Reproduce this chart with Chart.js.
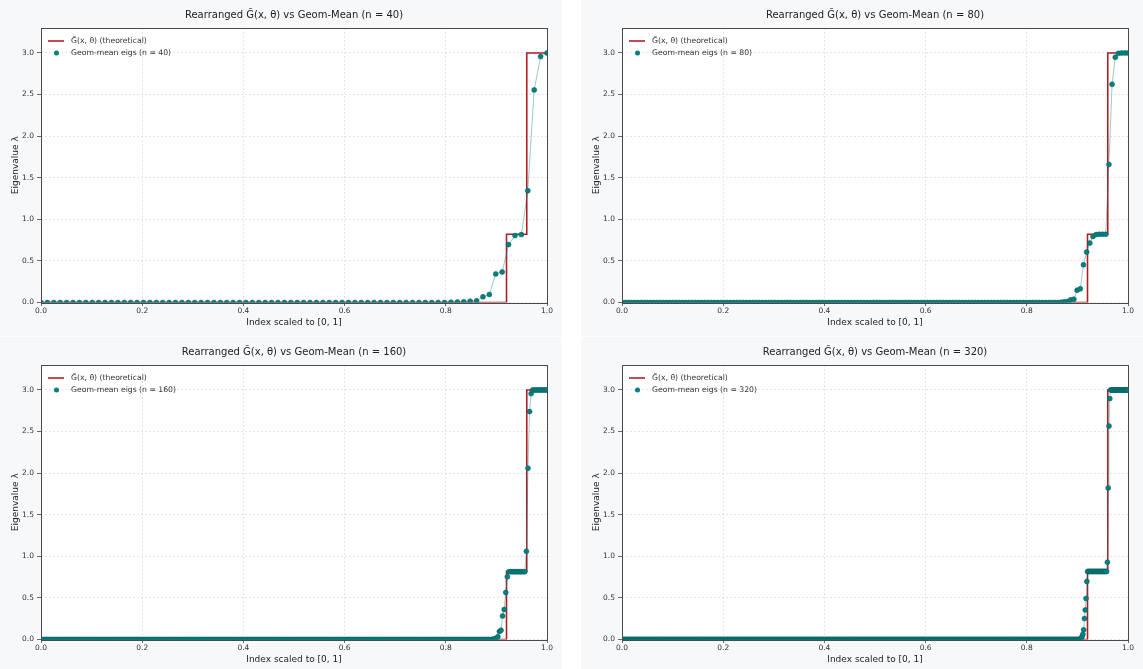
<!DOCTYPE html>
<html>
<head>
<meta charset="utf-8">
<script src="https://cdn.jsdelivr.net/npm/chart.js@4.4.0/dist/chart.umd.min.js"></script>
<style>
  html, body { margin: 0; padding: 0; background: #fff; }
  #grid {
    display: grid;
    grid-template-columns: 562px 562px;
    column-gap: 19px;
    row-gap: 1px;
    width: 1143px;
  }
  .panel { background: #f6f8fa; width: 562px; height: 336px; }
  canvas { display: block; }
</style>
</head>
<body>
<div id="grid">
  <div class="panel"><canvas id="c40" width="562" height="336"></canvas></div>
  <div class="panel"><canvas id="c80" width="562" height="336"></canvas></div>
  <div class="panel"><canvas id="c160" width="562" height="336"></canvas></div>
  <div class="panel"><canvas id="c320" width="562" height="336"></canvas></div>
</div>
<script>
// axis ticks
const xTicks = [0, 0.2, 0.4, 0.6, 0.8, 1.0];
const yTicks = [0, 0.5, 1.0, 1.5, 2.0, 2.5, 3.0];
const yMax = 3.3;

// theoretical step function G~(x, theta)
const theoryX = [0, 0.92, 0.92, 0.96, 0.96, 1.0];
const theoryY = [0, 0, 0.82, 0.82, 3.0, 3.0];

// geom-mean eigenvalues (2n per panel): a run of ~0 values, then the tail
const zeros40 = 64;
const tail40 = [0.004, 0.006, 0.008, 0.016, 0.02, 0.068, 0.096, 0.344, 0.368, 0.696,
  0.804, 0.816, 1.344, 2.556, 2.956, 3.0];

const zeros80 = 138;
const tail80 = [0.004, 0.008, 0.012, 0.032, 0.04, 0.148, 0.164, 0.453, 0.606, 0.714,
  0.794, 0.816, 0.82, 0.82, 0.82, 1.66, 2.623, 2.948, 2.995, 3.0, 3.0, 3.0];

const zeros160 = 285;
const tail160 = [0.004, 0.008, 0.016, 0.032, 0.096, 0.112, 0.284, 0.36, 0.565, 0.753,
  0.815, 0.815, 0.815, 0.815, 0.815, 0.815, 0.815, 0.815, 0.815, 0.815, 0.815,
  1.06, 2.06, 2.74, 2.956,
  3.0, 3.0, 3.0, 3.0, 3.0, 3.0, 3.0, 3.0, 3.0, 3.0];

const zeros320 = 578;
const tail320 = [0.004, 0.008, 0.016, 0.036, 0.064, 0.116, 0.252, 0.356, 0.493, 0.697,
  0.818, 0.818, 0.818, 0.818, 0.818, 0.818, 0.818, 0.818, 0.818, 0.818,
  0.818, 0.818, 0.818, 0.818, 0.818, 0.818, 0.818, 0.818, 0.818, 0.818,
  0.818, 0.818, 0.818, 0.818, 0.818,
  0.929, 1.822, 2.567, 2.896,
  3.0, 3.0, 3.0, 3.0, 3.0, 3.0, 3.0, 3.0, 3.0, 3.0, 3.0, 3.0,
  3.0, 3.0, 3.0, 3.0, 3.0, 3.0, 3.0, 3.0, 3.0, 3.0, 3.0];

const FONT = '"DejaVu Sans", sans-serif';
const tickFont = { family: FONT, size: 7.5 };
const labelFont = { family: FONT, size: 9 };

// white axes face, title, frame and in-axes legend (matplotlib look)
const panelDecor = {
  id: 'panelDecor',
  beforeDraw(chart) {
    const { ctx, chartArea: a } = chart;
    ctx.save();
    ctx.fillStyle = '#fff';
    ctx.fillRect(a.left, a.top, a.right - a.left, a.bottom - a.top);
    ctx.restore();
  },
  afterDraw(chart, args, opts) {
    const { ctx, chartArea: a } = chart;
    ctx.save();
    ctx.strokeStyle = '#4a4a4a';
    ctx.lineWidth = 1;
    ctx.strokeRect(Math.round(a.left) + 0.5, Math.round(a.top) + 0.5,
      Math.round(a.right - a.left), Math.round(a.bottom - a.top));

    ctx.fillStyle = '#222';
    ctx.font = '10px ' + FONT;
    ctx.textAlign = 'center';
    ctx.textBaseline = 'middle';
    ctx.fillText(opts.title, (a.left + a.right) / 2, 15);

    const ds = chart.data.datasets;
    ctx.font = '7.7px ' + FONT;
    ctx.textAlign = 'left';
    ctx.fillStyle = '#333';
    // theoretical entry
    ctx.strokeStyle = ds[2].borderColor;
    ctx.lineWidth = ds[2].borderWidth;
    ctx.beginPath();
    ctx.moveTo(a.left + 7, a.top + 13);
    ctx.lineTo(a.left + 23, a.top + 13);
    ctx.stroke();
    ctx.fillText(ds[2].label, a.left + 30, a.top + 13);
    // eigenvalue entry
    ctx.fillStyle = ds[0].backgroundColor;
    ctx.beginPath();
    ctx.arc(a.left + 15.5, a.top + 25, ds[0].pointRadius, 0, Math.PI * 2);
    ctx.fill();
    ctx.fillStyle = '#333';
    ctx.fillText(ds[0].label, a.left + 30, a.top + 25);
    ctx.restore();
  }
};

function makeChart(canvasId, n, zeros, tail) {
  const eigs = new Array(zeros).fill(0).concat(tail);
  const last = eigs.length - 1;
  const pts = eigs.map((v, i) => ({ x: i / last, y: v }));
  const theory = theoryX.map((x, i) => ({ x: x, y: theoryY[i] }));

  return new Chart(document.getElementById(canvasId), {
    type: 'scatter',
    data: {
      datasets: [
        { label: `Geom-mean eigs (n = ${n})`, data: pts, showLine: false,
          pointRadius: 2.5, backgroundColor: '#008080', borderColor: '#0d5c5c',
          borderWidth: 0.5, clip: 0 },
        { label: '', data: pts, showLine: true, pointRadius: 0,
          borderColor: 'rgba(0,128,128,0.45)', borderWidth: 0.9, clip: 0 },
        { label: 'G\u0303(x, \u03b8) (theoretical)', data: theory, showLine: true,
          pointRadius: 0, borderColor: '#b01e24', borderWidth: 1.6, clip: 0 }
      ]
    },
    options: {
      responsive: false,
      animation: false,
      devicePixelRatio: 1,
      layout: { padding: { top: 28, right: 15, left: 0, bottom: 0 } },
      plugins: {
        legend: { display: false },
        tooltip: { enabled: false },
        title: { display: false },
        panelDecor: { title: `Rearranged G\u0303(x, \u03b8) vs Geom-Mean (n = ${n})` }
      },
      scales: {
        x: {
          type: 'linear', min: 0, max: 1,
          afterBuildTicks: s => { s.ticks = xTicks.map(v => ({ value: v })); },
          afterFit: s => { s.height = 33.5; },
          ticks: { callback: v => v.toFixed(1), font: tickFont, color: '#333',
                   padding: 1, maxRotation: 0, autoSkip: false },
          grid: { color: '#dcdcdc', lineWidth: 0.7, tickLength: 3.5,
                  tickColor: '#444', tickWidth: 0.8 },
          border: { display: false, dash: [2, 2] },
          title: { display: true, text: 'Index scaled to [0, 1]', font: labelFont,
                   color: '#222', padding: { top: 0, bottom: 7.6 } }
        },
        y: {
          type: 'linear', min: 0, max: yMax,
          afterBuildTicks: s => { s.ticks = yTicks.map(v => ({ value: v })); },
          afterFit: s => { s.width = 41; },
          ticks: { callback: v => v.toFixed(1), font: tickFont, color: '#333', padding: 3 },
          grid: { color: '#dcdcdc', lineWidth: 0.7, tickLength: 4,
                  tickColor: '#444', tickWidth: 0.8 },
          border: { display: false, dash: [2, 2] },
          title: { display: true, text: 'Eigenvalue \u03bb', font: labelFont,
                   color: '#222', padding: { top: 10, bottom: 0 } }
        }
      }
    },
    plugins: [panelDecor]
  });
}

makeChart('c40', 40, zeros40, tail40);
makeChart('c80', 80, zeros80, tail80);
makeChart('c160', 160, zeros160, tail160);
makeChart('c320', 320, zeros320, tail320);
</script>
</body>
</html>
